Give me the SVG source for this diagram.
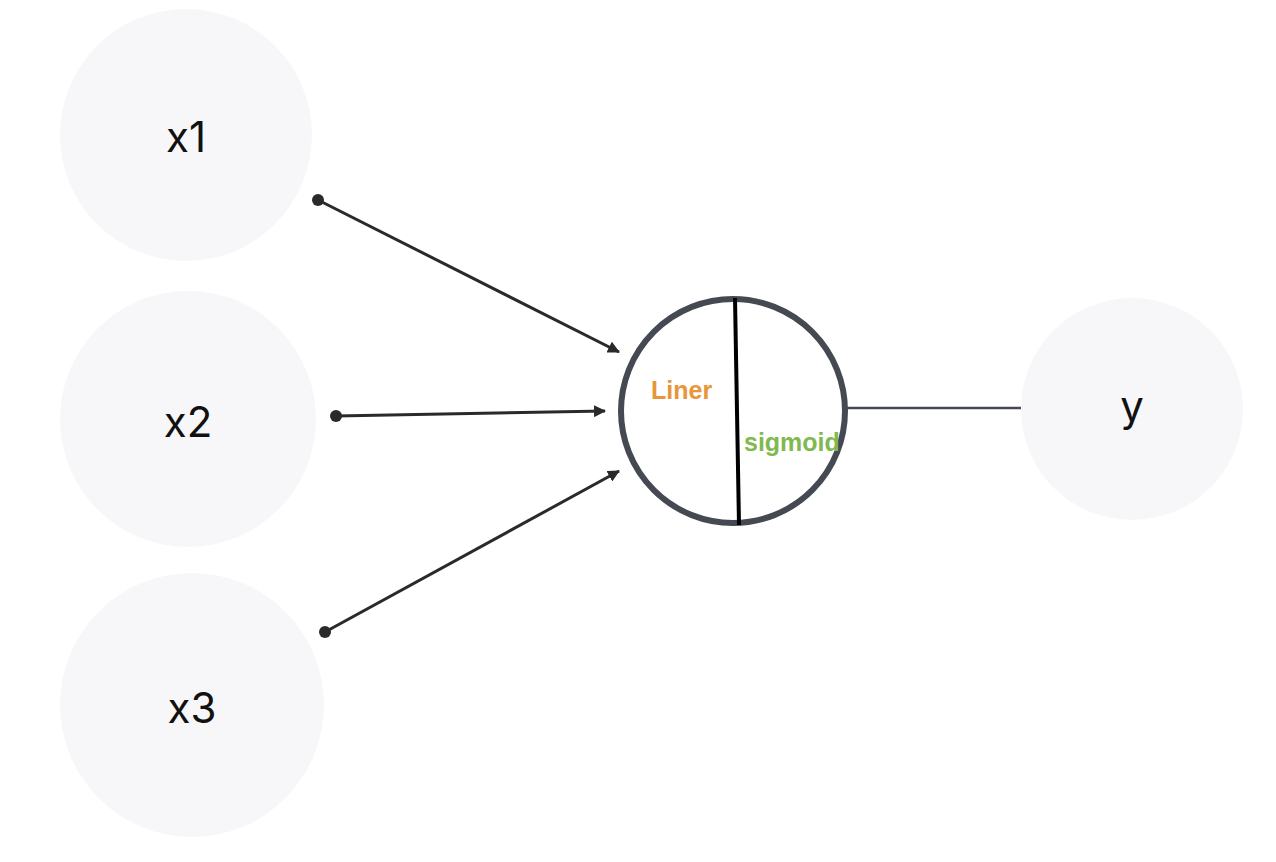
<svg xmlns="http://www.w3.org/2000/svg" width="1276" height="862" viewBox="0 0 1276 862">
<style>
.node{fill:#f7f7f9}
.lbl{font-family:Inter,"Noto Sans","Liberation Sans",sans-serif;font-size:42px;fill:#111;text-anchor:middle}
.edge{stroke:#2a2a2a;stroke-width:3;fill:none}
.sub{font-family:"Liberation Sans",Arial,sans-serif;font-weight:bold;font-size:25px}
</style>
<defs>
<marker id="arr" markerWidth="12" markerHeight="12" refX="11" refY="6" orient="auto" markerUnits="userSpaceOnUse" viewBox="0 0 12 12">
<path d="M0,0 L12,6 L0,12 z" fill="#2a2a2a"/>
</marker>
<marker id="dot" markerWidth="12" markerHeight="12" refX="6" refY="6" markerUnits="userSpaceOnUse">
<circle cx="6" cy="6" r="6" fill="#2a2a2a"/>
</marker>
</defs>
<rect width="1276" height="862" fill="#ffffff"/>
<g id="x1"><circle class="node" cx="186" cy="135" r="126"/><text class="lbl" x="186" y="152">x1</text></g>
<g id="x2"><circle class="node" cx="188" cy="419" r="128"/><text class="lbl" x="188" y="437">x2</text></g>
<g id="x3"><circle class="node" cx="192" cy="705" r="132"/><text class="lbl" x="192" y="723">x3</text></g>
<g id="y"><circle class="node" cx="1132" cy="409" r="111"/><text class="lbl" x="1132" y="421">y</text></g>
<g id="connectors">
<path class="edge" d="M318,200 L619,352" marker-start="url(#dot)" marker-end="url(#arr)"/>
<path class="edge" d="M336,416 L605,411" marker-start="url(#dot)" marker-end="url(#arr)"/>
<path class="edge" d="M325,632 L619,471" marker-start="url(#dot)" marker-end="url(#arr)"/>
<path d="M843,408 L1021,408" stroke="#454a52" stroke-width="2.5" fill="none"/>
</g>
<g id="neuron">
<circle cx="733" cy="411" r="112" fill="#ffffff" stroke="#454a52" stroke-width="6"/>
<path d="M735,298 L739,525" stroke="#000" stroke-width="4"/>
<text class="sub" x="651" y="399" fill="#e8963a">Liner</text>
<text class="sub" x="744" y="451" fill="#7fb950">sigmoid</text>
</g>
</svg>
